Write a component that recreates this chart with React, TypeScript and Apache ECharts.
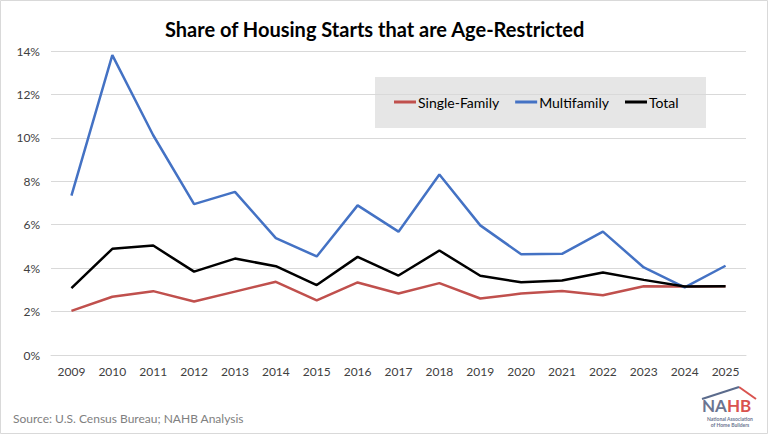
import React, { useEffect, useRef } from "react";
import * as echarts from "echarts";

const years = ["2009","2010","2011","2012","2013","2014","2015","2016","2017","2018","2019","2020","2021","2022","2023","2024","2025"];
const singleFamily = [2.03, 2.68, 2.94, 2.46, 2.92, 3.37, 2.52, 3.34, 2.83, 3.31, 2.6, 2.83, 2.95, 2.75, 3.17, 3.15, 3.17];
const multifamily = [7.34, 13.81, 10.12, 6.95, 7.51, 5.38, 4.54, 6.89, 5.68, 8.31, 5.97, 4.64, 4.66, 5.68, 4.03, 3.11, 4.11];
const total = [3.08, 4.89, 5.04, 3.84, 4.44, 4.09, 3.22, 4.52, 3.66, 4.81, 3.65, 3.35, 3.43, 3.8, 3.46, 3.15, 3.17];
const yTicks = [0, 2, 4, 6, 8, 10, 12, 14];

const FONT = "Lato, 'Open Sans', sans-serif";

export default function App() {
  const ref = useRef<HTMLDivElement>(null);
  useEffect(() => {
    if (!ref.current) return;
    const chart = echarts.init(ref.current, undefined, { renderer: "svg" });
    chart.setOption({
      animation: false,
      backgroundColor: "#ffffff",
      title: {
        text: "Share of Housing Starts that are Age-Restricted",
        left: 160,
        top: 14,
        textStyle: { fontFamily: FONT, fontWeight: "bold", fontSize: 20, color: "#000" },
      },
      legend: {
        left: 394,
        top: 95,
        padding: 0,
        icon: "rect",
        itemWidth: 22,
        itemHeight: 3,
        itemGap: 16,
        textStyle: { fontFamily: FONT, fontSize: 14, color: "#000", padding: [0, 0, 0, -3] },
        data: ["Single-Family", "Multifamily", "Total"],
      },
      grid: { left: 51, right: 22, top: 51, bottom: 79, containLabel: false },
      xAxis: {
        type: "category",
        data: years,
        boundaryGap: true,
        axisLine: { show: true, lineStyle: { color: "#d9d9d9", width: 1 } },
        axisTick: { show: false },
        axisLabel: { fontFamily: FONT, fontSize: 12, color: "#404040", margin: 10 },
      },
      yAxis: {
        type: "value",
        min: 0,
        max: 14,
        interval: 2,
        axisLine: { show: false },
        axisTick: { show: false },
        splitLine: { lineStyle: { color: "#d9d9d9", width: 1 } },
        axisLabel: {
          fontFamily: FONT,
          fontSize: 12,
          color: "#404040",
          margin: 11,
          formatter: (v: number) => (yTicks.includes(v) ? `${v}%` : ""),
        },
      },
      series: [
        {
          name: "Single-Family",
          type: "line",
          data: singleFamily,
          symbol: "none",
          lineStyle: { color: "#c0504d", width: 2.5 },
          itemStyle: { color: "#c0504d" },
          z: 2,
        },
        {
          name: "Multifamily",
          type: "line",
          data: multifamily,
          symbol: "none",
          lineStyle: { color: "#4472c4", width: 2.5 },
          itemStyle: { color: "#4472c4" },
          z: 3,
        },
        {
          name: "Total",
          type: "line",
          data: total,
          symbol: "none",
          lineStyle: { color: "#000000", width: 2.5 },
          itemStyle: { color: "#000000" },
          z: 4,
        },
      ],
      graphic: [
        {
          type: "rect",
          z: -10,
          shape: { x: 0.5, y: 0.5, width: 767, height: 433 },
          style: { fill: "none", stroke: "#d9d9d9", lineWidth: 1 },
        },
        {
          type: "rect",
          z: -5,
          shape: { x: 375, y: 77, width: 331, height: 51 },
          style: { fill: "#e6e6e6" },
        },
        {
          type: "text",
          left: 13,
          top: 412,
          style: { text: "Source: U.S. Census Bureau; NAHB Analysis", fill: "#808080", font: `12px ${FONT}` },
        },
        {
          type: "polyline",
          shape: { points: [[739, 387], [756, 399]] },
          style: { stroke: "#d9534f", lineWidth: 2, fill: "none" },
        },
        {
          type: "polyline",
          shape: { points: [[702, 399], [739, 387]] },
          style: { stroke: "#5b6b8c", lineWidth: 2, fill: "none" },
        },
        {
          type: "text",
          x: 702,
          y: 397,
          style: { text: "NA", fill: "#6b7591", font: `bold 17px ${FONT}` },
        },
        {
          type: "text",
          x: 727,
          y: 397,
          style: { text: "HB", fill: "#d9534f", font: `bold 17px ${FONT}` },
        },
        {
          type: "text",
          x: 730,
          y: 416,
          style: { text: "National Association", fill: "#6b7591", font: `bold 5px ${FONT}`, align: "center" },
        },
        {
          type: "text",
          x: 730,
          y: 422,
          style: { text: "of Home Builders", fill: "#6b7591", font: `bold 5px ${FONT}`, align: "center" },
        },
      ],
    });
    return () => chart.dispose();
  }, []);
  return (
    <div
      ref={ref}
      style={{ position: "fixed", left: 0, top: 0, width: 768, height: 434 }}
    />
  );
}
